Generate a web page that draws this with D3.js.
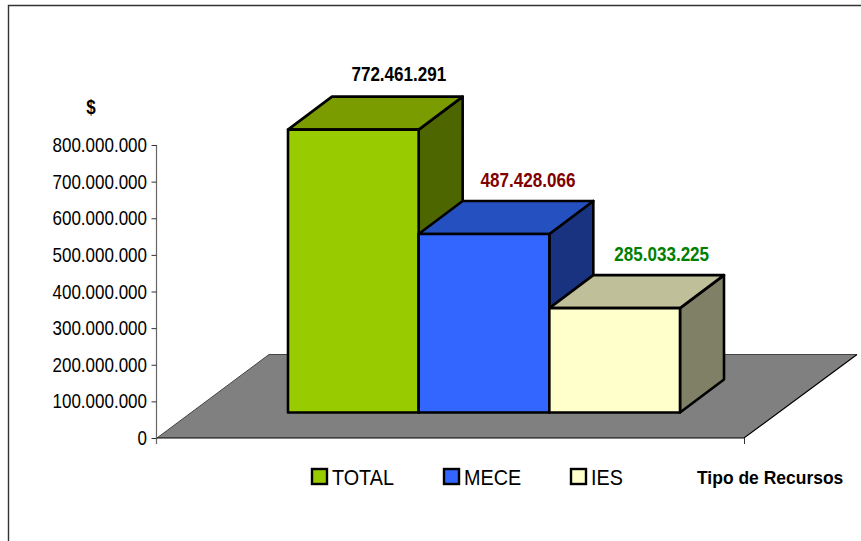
<!DOCTYPE html>
<html><head><meta charset="utf-8">
<script src="https://cdn.jsdelivr.net/npm/d3@7"></script>
<style>
html,body{margin:0;padding:0;background:#fff}
svg{display:block}
text{font-family:"Liberation Sans",Arial,sans-serif}
</style></head><body>
<svg id="c" width="861" height="541"></svg>
<script>
const categories = ["TOTAL","MECE","IES"];
const values = [772461291,487428066,285033225];
const valueLabels = ["772.461.291","487.428.066","285.033.225"];
const labelColors = ["#000000","#800000","#008000"];
const frontColors = ["#99CC00","#3366FF","#FFFFCC"];
const topColors = ["#7A9C00","#2450C0","#BFBF9A"];
const sideColors = ["#4D6600","#1A3380","#808066"];
const tickValues = d3.range(0,800000001,100000000);
const fmt = v => v===0 ? "0" : d3.format(",")(v).replace(/,/g,".");

const svg = d3.select("#c");
function label(str,px,py,size,sx,anchor,weight,fill){
  return svg.append("text").attr("transform",`translate(${px},${py}) scale(${sx},1)`)
    .attr("text-anchor",anchor).attr("font-size",size).attr("font-weight",weight).attr("fill",fill).text(str);
}
// frame
svg.append("path").attr("d","M8.5,541V5.5H861").attr("fill","none").attr("stroke","#333").attr("stroke-width",1.4);

const y = d3.scaleLinear().domain([0,800000000]).range([438,145]);
const x = d3.scaleBand().domain(categories).range([288,680]).padding(0);
const depthX = 44, depthY = -33, lift = -25.5;

// floor
svg.append("path").attr("d",`M157,438L269,354.5H857L744,438Z`).attr("fill","#808080");
svg.append("path").attr("d",`M157,438L269,354.5H857`).attr("fill","none").attr("stroke","#444").attr("stroke-width",1);
svg.append("path").attr("d",`M857,354.5L744,438H157`).attr("fill","none").attr("stroke","#000").attr("stroke-width",1.2);
svg.append("line").attr("x1",744.5).attr("x2",744.5).attr("y1",438).attr("y2",444).attr("stroke","#333");

// axis
const axis = d3.axisLeft(y).tickValues(tickValues).tickFormat("").tickSize(5);
const ag = svg.append("g").attr("transform","translate(156.5,0)").call(axis);
ag.select(".domain").attr("d","M0,145V444").attr("stroke","#666").attr("stroke-width",1.2).attr("fill","none");
ag.selectAll(".tick line").attr("stroke","#333");
tickValues.forEach(v=>label(fmt(v),147,y(v)+7,20,0.85,"end","normal","#000"));

label("$",91,114,20,0.85,"middle","bold","#000");

// bars
const sw = 2.6;
const labelDx = [1.5,0,3], labelDy = [6,8,8];
categories.forEach((c,i)=>{
  const x0=x(c), x1=x0+x.bandwidth(), t=y(values[i])+lift, b=y(0)+lift;
  const g=svg.append("g").attr("stroke","#000").attr("stroke-width",sw).attr("stroke-linejoin","round");
  g.append("path").attr("d",`M${x1},${t}L${x1+depthX},${t+depthY}V${b+depthY}L${x1},${b}Z`).attr("fill",sideColors[i]);
  g.append("path").attr("d",`M${x0},${t}L${x0+depthX},${t+depthY}H${x1+depthX}L${x1},${t}Z`).attr("fill",topColors[i]);
  g.append("rect").attr("x",x0).attr("y",t).attr("width",x.bandwidth()).attr("height",b-t).attr("fill",frontColors[i]);
  label(valueLabels[i],(x0+x1)/2+44+labelDx[i],t+depthY-22+labelDy[i],19.5,0.875,"middle","bold",labelColors[i]);
});

// legend
const legendX = [312,444,571];
categories.forEach((c,i)=>{
  svg.append("rect").attr("x",legendX[i]).attr("y",469).attr("width",15).attr("height",15)
    .attr("fill",frontColors[i]).attr("stroke","#000").attr("stroke-width",2.4);
  label(c,legendX[i]+20,484.5,22,0.9,"start","normal","#000");
});
label("Tipo de Recursos",697,484,19,0.92,"start","bold","#000");
</script>
</body></html>
